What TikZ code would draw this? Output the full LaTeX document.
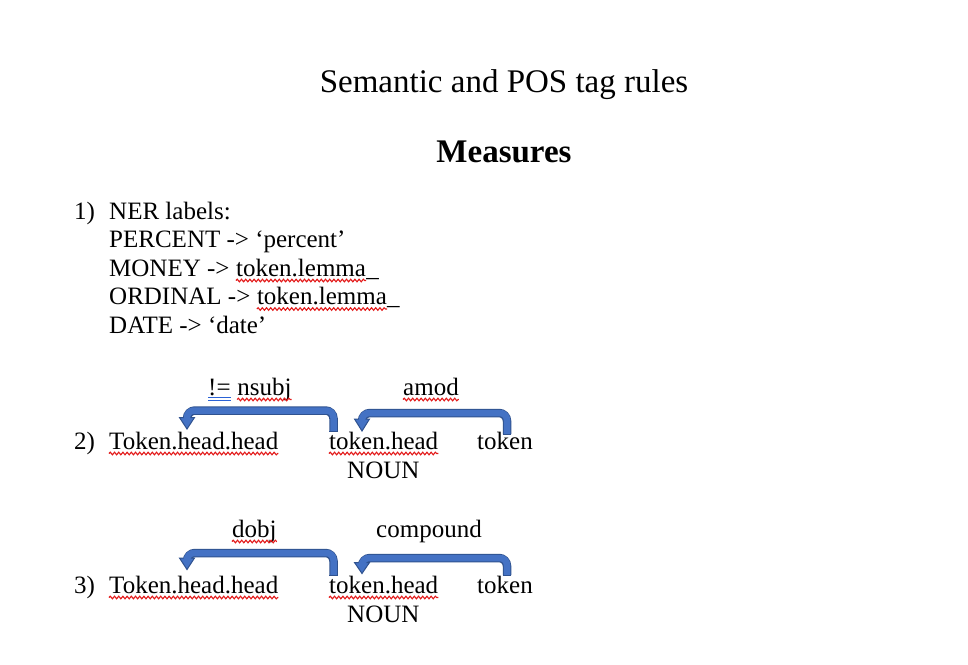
\documentclass[tikz,border=0pt]{standalone}
\usepackage{fontspec}
\setmainfont{Liberation Serif}
\usetikzlibrary{decorations.pathmorphing}
\definecolor{afill}{HTML}{4472C4}
\definecolor{aline}{HTML}{2F528F}
\definecolor{squigred}{HTML}{E31A1A}
\definecolor{gramblue}{HTML}{2A62D6}
\tikzset{
  txt/.style={inner sep=0pt, anchor=base west, font=\fontsize{25}{29}\selectfont},
  ttl/.style={inner sep=0pt, anchor=base, font=\fontsize{33}{38}\selectfont},
  squig/.style={draw=squigred, line width=1.1pt, decorate,
    decoration={snake, amplitude=1.3pt, segment length=4.2pt}},
  arrout/.style={draw=aline, line width=8.5pt, rounded corners=8pt},
  arrin/.style={draw=afill, line width=6.5pt, rounded corners=7pt},
  ahead/.style={fill=afill, draw=aline, line width=1pt, line join=miter},
}
\newcommand\wavyunder[1]{\draw[squig] ([yshift=-4.5pt]#1.base west) -- ([yshift=-4.5pt]#1.base east);}
% #1 start, #2 bend 1, #3 bend 2, #4 head base, #5 head left, #6 head right, #7 tip
\newcommand\blockarrow[7]{%
  \draw[arrout] (#1) -- (#2) -- (#3) -- (#4);
  \filldraw[ahead] (#5) -- (#6) -- (#7) -- cycle;
  \draw[arrin, shorten >=-1pt] (#1) -- (#2) -- (#3) -- (#4);
  \draw[draw=aline, line width=1pt] ([xshift=-4.25pt]#1) -- ([xshift=4.25pt]#1);
}
\begin{document}
\begin{tikzpicture}[x=1pt, y=-1pt]
\useasboundingbox[fill=white] (0,0) rectangle (968,664);

% titles
\node[ttl] (title) at (504,92) {Semantic and POS tag rules};
\node[ttl, font=\fontsize{33}{38}\selectfont\bfseries] (measures) at (504,162) {Measures};

% 1) NER labels
\node[txt] (n1) at (74,219) {1)};
\node[txt] (ner) at (109,219) {NER labels:};
\node[txt] (pct) at (109,247.5) {PERCENT -> `percent'};
\node[txt] (mon) at (109,276) {MONEY -> \mbox{}};
\node[txt] (monl) at (mon.base east) {token.lemma};
\node[txt] (monu) at (monl.base east) {\_};
\node[txt] (ord) at (109,304.5) {ORDINAL -> \mbox{}};
\node[txt] (ordl) at (ord.base east) {token.lemma};
\node[txt] (ordu) at (ordl.base east) {\_};
\node[txt] (dat) at (109,333) {DATE -> `date'};
\wavyunder{monl}
\wavyunder{ordl}

% 2)
\node[txt] (neq) at (208,395) {!=};
\node[txt] (nsubj) at ([xshift=6.25pt]neq.base east) {nsubj};
\node[txt] (amod) at (403,395) {amod};
\node[txt] (n2) at (74,449) {2)};
\node[txt] (hh2) at (109,449) {Token.head.head};
\node[txt] (th2) at (329,449) {token.head};
\node[txt] (tk2) at (477,449) {token};
\node[txt] (noun2) at (347,478) {NOUN};
\draw[gramblue, line width=0.9pt] ([yshift=-2.5pt]neq.base west) -- ([yshift=-2.5pt]neq.base east);
\draw[gramblue, line width=0.9pt] ([yshift=-5.5pt]neq.base west) -- ([yshift=-5.5pt]neq.base east);
\wavyunder{nsubj}
\wavyunder{amod}
\wavyunder{hh2}
\wavyunder{th2}

\coordinate (a1s) at (333.5,431);
\coordinate (a1b) at (333.5,410.5);
\coordinate (a1c) at (187,410.5);
\coordinate (a1d) at (187,418);
\coordinate (a1l) at (179.5,417.5);
\coordinate (a1r) at (194.5,417.5);
\coordinate (a1t) at (187,429);
\blockarrow{a1s}{a1b}{a1c}{a1d}{a1l}{a1r}{a1t}

\coordinate (a2s) at (507,434);
\coordinate (a2b) at (507,413);
\coordinate (a2c) at (362,413);
\coordinate (a2d) at (362,419.5);
\coordinate (a2l) at (354.5,419);
\coordinate (a2r) at (369.5,419);
\coordinate (a2t) at (362,431);
\blockarrow{a2s}{a2b}{a2c}{a2d}{a2l}{a2r}{a2t}

% 3)
\node[txt] (dobj) at (232,537) {dobj};
\node[txt] (comp) at (376,537) {compound};
\node[txt] (n3) at (74,593) {3)};
\node[txt] (hh3) at (109,593) {Token.head.head};
\node[txt] (th3) at (329,593) {token.head};
\node[txt] (tk3) at (477,593) {token};
\node[txt] (noun3) at (347,622) {NOUN};
\wavyunder{dobj}
\wavyunder{hh3}
\wavyunder{th3}

\coordinate (a3s) at (333.5,575);
\coordinate (a3b) at (333.5,553);
\coordinate (a3c) at (187,553);
\coordinate (a3d) at (187,558.5);
\coordinate (a3l) at (179.5,558);
\coordinate (a3r) at (194.5,558);
\coordinate (a3t) at (187,569.5);
\blockarrow{a3s}{a3b}{a3c}{a3d}{a3l}{a3r}{a3t}

\coordinate (a4s) at (507,575);
\coordinate (a4b) at (507,558);
\coordinate (a4c) at (362,558);
\coordinate (a4d) at (362,563);
\coordinate (a4l) at (354.5,562.5);
\coordinate (a4r) at (369.5,562.5);
\coordinate (a4t) at (362,573.5);
\blockarrow{a4s}{a4b}{a4c}{a4d}{a4l}{a4r}{a4t}
\end{tikzpicture}
\end{document}
